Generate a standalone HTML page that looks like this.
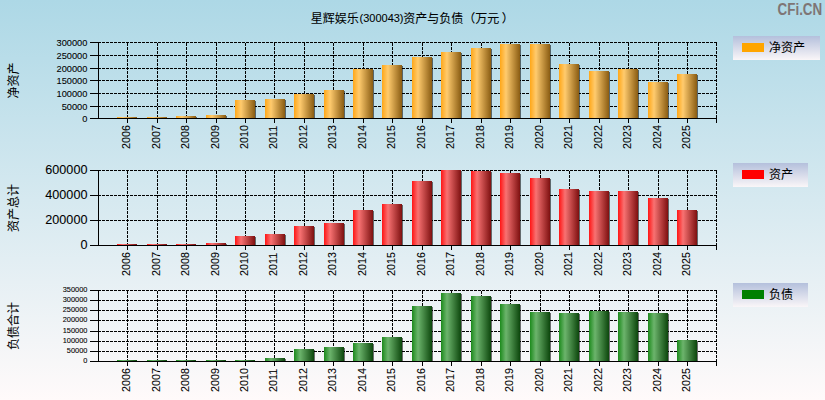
<!DOCTYPE html>
<html><head><meta charset="utf-8"><title>chart</title>
<style>
html,body{margin:0;padding:0;background:#fff;}
body{width:825px;height:400px;overflow:hidden;}
svg{display:block;}
text{font-family:"Liberation Sans","Noto Sans CJK SC",sans-serif;fill:#000;stroke:#000;stroke-width:0.08px;}
.ln{stroke:#000;stroke-width:1;shape-rendering:crispEdges;fill:none;}
.gd{stroke:#000;stroke-width:1;stroke-dasharray:3 1;shape-rendering:crispEdges;fill:none;}
</style></head><body>
<svg width="825" height="400" viewBox="0 0 825 400">
<defs>
<linearGradient id="bg" x1="0" y1="0" x2="0" y2="1"><stop offset="0" stop-color="#ADD8E6"/><stop offset="1" stop-color="#FFFAFA"/></linearGradient>
<linearGradient id="lg" x1="0" y1="0" x2="0" y2="1"><stop offset="0" stop-color="#B4C0DC"/><stop offset="1" stop-color="#FAF6F8"/></linearGradient>
<linearGradient id="baro" x1="0" y1="0" x2="1" y2="0"><stop offset="0" stop-color="#FFA718"/><stop offset="0.3" stop-color="#FFCB6E"/><stop offset="1" stop-color="#8A5C12"/></linearGradient>
<linearGradient id="barr" x1="0" y1="0" x2="1" y2="0"><stop offset="0" stop-color="#FF1414"/><stop offset="0.3" stop-color="#F87272"/><stop offset="1" stop-color="#7E1010"/></linearGradient>
<linearGradient id="barg" x1="0" y1="0" x2="1" y2="0"><stop offset="0" stop-color="#1C8A1C"/><stop offset="0.3" stop-color="#6CB46C"/><stop offset="1" stop-color="#0C460C"/></linearGradient>
</defs>
<rect width="825" height="400" fill="url(#bg)"/>
<text x="310.7" y="22.5" font-size="12">星辉娱乐</text>
<text x="359.5" y="22.2" font-size="11">(300043)</text>
<text x="403.2" y="22.5" font-size="12">资产与负债（万元</text>
<text x="501.7" y="22.5" font-size="12">）</text>
<text x="777.6" y="14.8" font-size="16" font-weight="bold" style="fill:#7e7575;stroke:none" textLength="44.6" lengthAdjust="spacingAndGlyphs">CFi.CN</text>
<g id="co">
<path class="ln" d="M90 118.5H98.5"/>
<text x="87.4" y="122.01" font-size="9.25" text-anchor="end">0</text>
<path class="gd" d="M98.0 106.5H717.0"/>
<path class="ln" d="M90 106.5H98.5"/>
<text x="87.4" y="110.01" font-size="9.25" text-anchor="end">50000</text>
<path class="gd" d="M98.0 93.5H717.0"/>
<path class="ln" d="M90 93.5H98.5"/>
<text x="87.4" y="97.01" font-size="9.25" text-anchor="end">100000</text>
<path class="gd" d="M98.0 80.5H717.0"/>
<path class="ln" d="M90 80.5H98.5"/>
<text x="87.4" y="84.01" font-size="9.25" text-anchor="end">150000</text>
<path class="gd" d="M98.0 68.5H717.0"/>
<path class="ln" d="M90 68.5H98.5"/>
<text x="87.4" y="72.01" font-size="9.25" text-anchor="end">200000</text>
<path class="gd" d="M98.0 55.5H717.0"/>
<path class="ln" d="M90 55.5H98.5"/>
<text x="87.4" y="59.01" font-size="9.25" text-anchor="end">250000</text>
<path class="gd" d="M98.0 42.5H717.0"/>
<path class="ln" d="M90 42.5H98.5"/>
<text x="87.4" y="46.01" font-size="9.25" text-anchor="end">300000</text>
<path class="gd" d="M127.5 43.0V118.0"/>
<path class="ln" d="M127.5 119.0V123.0"/>
<path class="gd" d="M157.5 43.0V118.0"/>
<path class="ln" d="M157.5 119.0V123.0"/>
<path class="gd" d="M186.5 43.0V118.0"/>
<path class="ln" d="M186.5 119.0V123.0"/>
<path class="gd" d="M216.5 43.0V118.0"/>
<path class="ln" d="M216.5 119.0V123.0"/>
<path class="gd" d="M245.5 43.0V118.0"/>
<path class="ln" d="M245.5 119.0V123.0"/>
<path class="gd" d="M274.5 43.0V118.0"/>
<path class="ln" d="M274.5 119.0V123.0"/>
<path class="gd" d="M304.5 43.0V118.0"/>
<path class="ln" d="M304.5 119.0V123.0"/>
<path class="gd" d="M333.5 43.0V118.0"/>
<path class="ln" d="M333.5 119.0V123.0"/>
<path class="gd" d="M363.5 43.0V118.0"/>
<path class="ln" d="M363.5 119.0V123.0"/>
<path class="gd" d="M392.5 43.0V118.0"/>
<path class="ln" d="M392.5 119.0V123.0"/>
<path class="gd" d="M422.5 43.0V118.0"/>
<path class="ln" d="M422.5 119.0V123.0"/>
<path class="gd" d="M451.5 43.0V118.0"/>
<path class="ln" d="M451.5 119.0V123.0"/>
<path class="gd" d="M481.5 43.0V118.0"/>
<path class="ln" d="M481.5 119.0V123.0"/>
<path class="gd" d="M510.5 43.0V118.0"/>
<path class="ln" d="M510.5 119.0V123.0"/>
<path class="gd" d="M540.5 43.0V118.0"/>
<path class="ln" d="M540.5 119.0V123.0"/>
<path class="gd" d="M569.5 43.0V118.0"/>
<path class="ln" d="M569.5 119.0V123.0"/>
<path class="gd" d="M599.5 43.0V118.0"/>
<path class="ln" d="M599.5 119.0V123.0"/>
<path class="gd" d="M628.5 43.0V118.0"/>
<path class="ln" d="M628.5 119.0V123.0"/>
<path class="gd" d="M658.5 43.0V118.0"/>
<path class="ln" d="M658.5 119.0V123.0"/>
<path class="gd" d="M687.5 43.0V118.0"/>
<path class="ln" d="M687.5 119.0V123.0"/>
<path class="gd" d="M716.5 43.0V118.0"/>
<path class="ln" d="M716.5 119.0V123.0"/>
<rect x="137.00" y="118.00" width="1.0" height="0.50" fill="#000" fill-opacity="0.55"/>
<rect x="117.00" y="117.00" width="20.00" height="1" fill="url(#baro)"/>
<rect x="167.00" y="118.00" width="1.0" height="0.50" fill="#000" fill-opacity="0.55"/>
<rect x="147.00" y="117.00" width="20.00" height="1" fill="url(#baro)"/>
<rect x="196.00" y="117.00" width="1.0" height="1.00" fill="#000" fill-opacity="0.55"/>
<rect x="176.00" y="116.00" width="20.00" height="2" fill="url(#baro)"/>
<rect x="226.00" y="116.00" width="1.0" height="2.00" fill="#000" fill-opacity="0.55"/>
<rect x="206.00" y="115.00" width="20.00" height="3" fill="url(#baro)"/>
<rect x="255.00" y="101.00" width="1.0" height="17.00" fill="#000" fill-opacity="0.55"/>
<rect x="235.00" y="100.00" width="20.00" height="18" fill="url(#baro)"/>
<rect x="285.00" y="100.00" width="1.0" height="18.00" fill="#000" fill-opacity="0.55"/>
<rect x="265.00" y="99.00" width="20.00" height="19" fill="url(#baro)"/>
<rect x="314.00" y="95.00" width="1.0" height="23.00" fill="#000" fill-opacity="0.55"/>
<rect x="294.00" y="94.00" width="20.00" height="24" fill="url(#baro)"/>
<rect x="344.00" y="91.00" width="1.0" height="27.00" fill="#000" fill-opacity="0.55"/>
<rect x="324.00" y="90.00" width="20.00" height="28" fill="url(#baro)"/>
<rect x="373.00" y="70.00" width="1.0" height="48.00" fill="#000" fill-opacity="0.55"/>
<rect x="353.00" y="69.00" width="20.00" height="49" fill="url(#baro)"/>
<rect x="402.00" y="66.00" width="1.0" height="52.00" fill="#000" fill-opacity="0.55"/>
<rect x="382.00" y="65.00" width="20.00" height="53" fill="url(#baro)"/>
<rect x="432.00" y="58.00" width="1.0" height="60.00" fill="#000" fill-opacity="0.55"/>
<rect x="412.00" y="57.00" width="20.00" height="61" fill="url(#baro)"/>
<rect x="461.00" y="53.00" width="1.0" height="65.00" fill="#000" fill-opacity="0.55"/>
<rect x="441.00" y="52.00" width="20.00" height="66" fill="url(#baro)"/>
<rect x="491.00" y="49.00" width="1.0" height="69.00" fill="#000" fill-opacity="0.55"/>
<rect x="471.00" y="48.00" width="20.00" height="70" fill="url(#baro)"/>
<rect x="520.00" y="45.00" width="1.0" height="73.00" fill="#000" fill-opacity="0.55"/>
<rect x="500.00" y="44.00" width="20.00" height="74" fill="url(#baro)"/>
<rect x="550.00" y="45.00" width="1.0" height="73.00" fill="#000" fill-opacity="0.55"/>
<rect x="530.00" y="44.00" width="20.00" height="74" fill="url(#baro)"/>
<rect x="579.00" y="65.00" width="1.0" height="53.00" fill="#000" fill-opacity="0.55"/>
<rect x="559.00" y="64.00" width="20.00" height="54" fill="url(#baro)"/>
<rect x="609.00" y="72.00" width="1.0" height="46.00" fill="#000" fill-opacity="0.55"/>
<rect x="589.00" y="71.00" width="20.00" height="47" fill="url(#baro)"/>
<rect x="638.00" y="70.00" width="1.0" height="48.00" fill="#000" fill-opacity="0.55"/>
<rect x="618.00" y="69.00" width="20.00" height="49" fill="url(#baro)"/>
<rect x="668.00" y="83.00" width="1.0" height="35.00" fill="#000" fill-opacity="0.55"/>
<rect x="648.00" y="82.00" width="20.00" height="36" fill="url(#baro)"/>
<rect x="697.00" y="75.00" width="1.0" height="43.00" fill="#000" fill-opacity="0.55"/>
<rect x="677.00" y="74.00" width="20.00" height="44" fill="url(#baro)"/>
<path class="ln" d="M98.5 42.0V119.0"/>
<path class="ln" d="M98.0 118.5H717.0"/>
<text transform="translate(129.60 148.90) rotate(-90)" font-size="10.7">2006</text>
<text transform="translate(159.60 148.90) rotate(-90)" font-size="10.7">2007</text>
<text transform="translate(188.60 148.90) rotate(-90)" font-size="10.7">2008</text>
<text transform="translate(218.60 148.90) rotate(-90)" font-size="10.7">2009</text>
<text transform="translate(247.60 148.90) rotate(-90)" font-size="10.7">2010</text>
<text transform="translate(276.60 148.90) rotate(-90)" font-size="10.7">2011</text>
<text transform="translate(306.60 148.90) rotate(-90)" font-size="10.7">2012</text>
<text transform="translate(335.60 148.90) rotate(-90)" font-size="10.7">2013</text>
<text transform="translate(365.60 148.90) rotate(-90)" font-size="10.7">2014</text>
<text transform="translate(394.60 148.90) rotate(-90)" font-size="10.7">2015</text>
<text transform="translate(424.60 148.90) rotate(-90)" font-size="10.7">2016</text>
<text transform="translate(453.60 148.90) rotate(-90)" font-size="10.7">2017</text>
<text transform="translate(483.60 148.90) rotate(-90)" font-size="10.7">2018</text>
<text transform="translate(512.60 148.90) rotate(-90)" font-size="10.7">2019</text>
<text transform="translate(542.60 148.90) rotate(-90)" font-size="10.7">2020</text>
<text transform="translate(571.60 148.90) rotate(-90)" font-size="10.7">2021</text>
<text transform="translate(601.60 148.90) rotate(-90)" font-size="10.7">2022</text>
<text transform="translate(630.60 148.90) rotate(-90)" font-size="10.7">2023</text>
<text transform="translate(660.60 148.90) rotate(-90)" font-size="10.7">2024</text>
<text transform="translate(689.60 148.90) rotate(-90)" font-size="10.7">2025</text>
<text transform="translate(17.60 98.50) rotate(-90)" font-size="12">净资产</text>
<rect x="733" y="36" width="87" height="24" fill="url(#lg)"/>
<rect x="742" y="43" width="22" height="9" fill="#FFA500"/>
<text x="769" y="52" font-size="12">净资产</text>
</g>
<g id="cr">
<path class="ln" d="M90 245.5H98.5"/>
<text x="87.4" y="248.91" font-size="12.6" text-anchor="end">0</text>
<path class="gd" d="M98.0 220.5H717.0"/>
<path class="ln" d="M90 220.5H98.5"/>
<text x="87.4" y="223.91" font-size="12.6" text-anchor="end">200000</text>
<path class="gd" d="M98.0 195.5H717.0"/>
<path class="ln" d="M90 195.5H98.5"/>
<text x="87.4" y="198.91" font-size="12.6" text-anchor="end">400000</text>
<path class="gd" d="M98.0 170.5H717.0"/>
<path class="ln" d="M90 170.5H98.5"/>
<text x="87.4" y="173.91" font-size="12.6" text-anchor="end">600000</text>
<path class="gd" d="M127.5 171.0V245.0"/>
<path class="ln" d="M127.5 246.0V250.0"/>
<path class="gd" d="M157.5 171.0V245.0"/>
<path class="ln" d="M157.5 246.0V250.0"/>
<path class="gd" d="M186.5 171.0V245.0"/>
<path class="ln" d="M186.5 246.0V250.0"/>
<path class="gd" d="M216.5 171.0V245.0"/>
<path class="ln" d="M216.5 246.0V250.0"/>
<path class="gd" d="M245.5 171.0V245.0"/>
<path class="ln" d="M245.5 246.0V250.0"/>
<path class="gd" d="M274.5 171.0V245.0"/>
<path class="ln" d="M274.5 246.0V250.0"/>
<path class="gd" d="M304.5 171.0V245.0"/>
<path class="ln" d="M304.5 246.0V250.0"/>
<path class="gd" d="M333.5 171.0V245.0"/>
<path class="ln" d="M333.5 246.0V250.0"/>
<path class="gd" d="M363.5 171.0V245.0"/>
<path class="ln" d="M363.5 246.0V250.0"/>
<path class="gd" d="M392.5 171.0V245.0"/>
<path class="ln" d="M392.5 246.0V250.0"/>
<path class="gd" d="M422.5 171.0V245.0"/>
<path class="ln" d="M422.5 246.0V250.0"/>
<path class="gd" d="M451.5 171.0V245.0"/>
<path class="ln" d="M451.5 246.0V250.0"/>
<path class="gd" d="M481.5 171.0V245.0"/>
<path class="ln" d="M481.5 246.0V250.0"/>
<path class="gd" d="M510.5 171.0V245.0"/>
<path class="ln" d="M510.5 246.0V250.0"/>
<path class="gd" d="M540.5 171.0V245.0"/>
<path class="ln" d="M540.5 246.0V250.0"/>
<path class="gd" d="M569.5 171.0V245.0"/>
<path class="ln" d="M569.5 246.0V250.0"/>
<path class="gd" d="M599.5 171.0V245.0"/>
<path class="ln" d="M599.5 246.0V250.0"/>
<path class="gd" d="M628.5 171.0V245.0"/>
<path class="ln" d="M628.5 246.0V250.0"/>
<path class="gd" d="M658.5 171.0V245.0"/>
<path class="ln" d="M658.5 246.0V250.0"/>
<path class="gd" d="M687.5 171.0V245.0"/>
<path class="ln" d="M687.5 246.0V250.0"/>
<path class="gd" d="M716.5 171.0V245.0"/>
<path class="ln" d="M716.5 246.0V250.0"/>
<rect x="137.00" y="245.00" width="1.0" height="0.50" fill="#000" fill-opacity="0.55"/>
<rect x="117.00" y="244.00" width="20.00" height="1" fill="url(#barr)"/>
<rect x="167.00" y="245.00" width="1.0" height="0.50" fill="#000" fill-opacity="0.55"/>
<rect x="147.00" y="244.00" width="20.00" height="1" fill="url(#barr)"/>
<rect x="196.00" y="245.00" width="1.0" height="0.50" fill="#000" fill-opacity="0.55"/>
<rect x="176.00" y="244.00" width="20.00" height="1" fill="url(#barr)"/>
<rect x="226.00" y="244.00" width="1.0" height="1.00" fill="#000" fill-opacity="0.55"/>
<rect x="206.00" y="243.00" width="20.00" height="2" fill="url(#barr)"/>
<rect x="255.00" y="237.00" width="1.0" height="8.00" fill="#000" fill-opacity="0.55"/>
<rect x="235.00" y="236.00" width="20.00" height="9" fill="url(#barr)"/>
<rect x="285.00" y="235.00" width="1.0" height="10.00" fill="#000" fill-opacity="0.55"/>
<rect x="265.00" y="234.00" width="20.00" height="11" fill="url(#barr)"/>
<rect x="314.00" y="227.00" width="1.0" height="18.00" fill="#000" fill-opacity="0.55"/>
<rect x="294.00" y="226.00" width="20.00" height="19" fill="url(#barr)"/>
<rect x="344.00" y="224.00" width="1.0" height="21.00" fill="#000" fill-opacity="0.55"/>
<rect x="324.00" y="223.00" width="20.00" height="22" fill="url(#barr)"/>
<rect x="373.00" y="211.00" width="1.0" height="34.00" fill="#000" fill-opacity="0.55"/>
<rect x="353.00" y="210.00" width="20.00" height="35" fill="url(#barr)"/>
<rect x="402.00" y="205.00" width="1.0" height="40.00" fill="#000" fill-opacity="0.55"/>
<rect x="382.00" y="204.00" width="20.00" height="41" fill="url(#barr)"/>
<rect x="432.00" y="182.00" width="1.0" height="63.00" fill="#000" fill-opacity="0.55"/>
<rect x="412.00" y="181.00" width="20.00" height="64" fill="url(#barr)"/>
<rect x="461.00" y="171.00" width="1.0" height="74.00" fill="#000" fill-opacity="0.55"/>
<rect x="441.00" y="170.00" width="20.00" height="75" fill="url(#barr)"/>
<rect x="491.00" y="172.00" width="1.0" height="73.00" fill="#000" fill-opacity="0.55"/>
<rect x="471.00" y="171.00" width="20.00" height="74" fill="url(#barr)"/>
<rect x="520.00" y="174.00" width="1.0" height="71.00" fill="#000" fill-opacity="0.55"/>
<rect x="500.00" y="173.00" width="20.00" height="72" fill="url(#barr)"/>
<rect x="550.00" y="179.00" width="1.0" height="66.00" fill="#000" fill-opacity="0.55"/>
<rect x="530.00" y="178.00" width="20.00" height="67" fill="url(#barr)"/>
<rect x="579.00" y="190.00" width="1.0" height="55.00" fill="#000" fill-opacity="0.55"/>
<rect x="559.00" y="189.00" width="20.00" height="56" fill="url(#barr)"/>
<rect x="609.00" y="192.00" width="1.0" height="53.00" fill="#000" fill-opacity="0.55"/>
<rect x="589.00" y="191.00" width="20.00" height="54" fill="url(#barr)"/>
<rect x="638.00" y="192.00" width="1.0" height="53.00" fill="#000" fill-opacity="0.55"/>
<rect x="618.00" y="191.00" width="20.00" height="54" fill="url(#barr)"/>
<rect x="668.00" y="199.00" width="1.0" height="46.00" fill="#000" fill-opacity="0.55"/>
<rect x="648.00" y="198.00" width="20.00" height="47" fill="url(#barr)"/>
<rect x="697.00" y="211.00" width="1.0" height="34.00" fill="#000" fill-opacity="0.55"/>
<rect x="677.00" y="210.00" width="20.00" height="35" fill="url(#barr)"/>
<path class="ln" d="M98.5 170.0V246.0"/>
<path class="ln" d="M98.0 245.5H717.0"/>
<text transform="translate(129.60 275.90) rotate(-90)" font-size="10.7">2006</text>
<text transform="translate(159.60 275.90) rotate(-90)" font-size="10.7">2007</text>
<text transform="translate(188.60 275.90) rotate(-90)" font-size="10.7">2008</text>
<text transform="translate(218.60 275.90) rotate(-90)" font-size="10.7">2009</text>
<text transform="translate(247.60 275.90) rotate(-90)" font-size="10.7">2010</text>
<text transform="translate(276.60 275.90) rotate(-90)" font-size="10.7">2011</text>
<text transform="translate(306.60 275.90) rotate(-90)" font-size="10.7">2012</text>
<text transform="translate(335.60 275.90) rotate(-90)" font-size="10.7">2013</text>
<text transform="translate(365.60 275.90) rotate(-90)" font-size="10.7">2014</text>
<text transform="translate(394.60 275.90) rotate(-90)" font-size="10.7">2015</text>
<text transform="translate(424.60 275.90) rotate(-90)" font-size="10.7">2016</text>
<text transform="translate(453.60 275.90) rotate(-90)" font-size="10.7">2017</text>
<text transform="translate(483.60 275.90) rotate(-90)" font-size="10.7">2018</text>
<text transform="translate(512.60 275.90) rotate(-90)" font-size="10.7">2019</text>
<text transform="translate(542.60 275.90) rotate(-90)" font-size="10.7">2020</text>
<text transform="translate(571.60 275.90) rotate(-90)" font-size="10.7">2021</text>
<text transform="translate(601.60 275.90) rotate(-90)" font-size="10.7">2022</text>
<text transform="translate(630.60 275.90) rotate(-90)" font-size="10.7">2023</text>
<text transform="translate(660.60 275.90) rotate(-90)" font-size="10.7">2024</text>
<text transform="translate(689.60 275.90) rotate(-90)" font-size="10.7">2025</text>
<text transform="translate(17.60 232.00) rotate(-90)" font-size="12">资产总计</text>
<rect x="733" y="163" width="75" height="24" fill="url(#lg)"/>
<rect x="742" y="170" width="22" height="9" fill="#FF0000"/>
<text x="769" y="179" font-size="12">资产</text>
</g>
<g id="cg">
<path class="ln" d="M90 361.5H98.5"/>
<text x="87.4" y="362.65" font-size="7.4" text-anchor="end">0</text>
<path class="gd" d="M98.0 351.5H717.0"/>
<path class="ln" d="M90 351.5H98.5"/>
<text x="87.4" y="352.65" font-size="7.4" text-anchor="end">50000</text>
<path class="gd" d="M98.0 341.5H717.0"/>
<path class="ln" d="M90 341.5H98.5"/>
<text x="87.4" y="342.65" font-size="7.4" text-anchor="end">100000</text>
<path class="gd" d="M98.0 331.5H717.0"/>
<path class="ln" d="M90 331.5H98.5"/>
<text x="87.4" y="332.65" font-size="7.4" text-anchor="end">150000</text>
<path class="gd" d="M98.0 320.5H717.0"/>
<path class="ln" d="M90 320.5H98.5"/>
<text x="87.4" y="321.65" font-size="7.4" text-anchor="end">200000</text>
<path class="gd" d="M98.0 310.5H717.0"/>
<path class="ln" d="M90 310.5H98.5"/>
<text x="87.4" y="311.65" font-size="7.4" text-anchor="end">250000</text>
<path class="gd" d="M98.0 300.5H717.0"/>
<path class="ln" d="M90 300.5H98.5"/>
<text x="87.4" y="301.65" font-size="7.4" text-anchor="end">300000</text>
<path class="gd" d="M98.0 290.5H717.0"/>
<path class="ln" d="M90 290.5H98.5"/>
<text x="87.4" y="291.65" font-size="7.4" text-anchor="end">350000</text>
<path class="gd" d="M127.5 291.0V361.0"/>
<path class="ln" d="M127.5 362.0V366.0"/>
<path class="gd" d="M157.5 291.0V361.0"/>
<path class="ln" d="M157.5 362.0V366.0"/>
<path class="gd" d="M186.5 291.0V361.0"/>
<path class="ln" d="M186.5 362.0V366.0"/>
<path class="gd" d="M216.5 291.0V361.0"/>
<path class="ln" d="M216.5 362.0V366.0"/>
<path class="gd" d="M245.5 291.0V361.0"/>
<path class="ln" d="M245.5 362.0V366.0"/>
<path class="gd" d="M274.5 291.0V361.0"/>
<path class="ln" d="M274.5 362.0V366.0"/>
<path class="gd" d="M304.5 291.0V361.0"/>
<path class="ln" d="M304.5 362.0V366.0"/>
<path class="gd" d="M333.5 291.0V361.0"/>
<path class="ln" d="M333.5 362.0V366.0"/>
<path class="gd" d="M363.5 291.0V361.0"/>
<path class="ln" d="M363.5 362.0V366.0"/>
<path class="gd" d="M392.5 291.0V361.0"/>
<path class="ln" d="M392.5 362.0V366.0"/>
<path class="gd" d="M422.5 291.0V361.0"/>
<path class="ln" d="M422.5 362.0V366.0"/>
<path class="gd" d="M451.5 291.0V361.0"/>
<path class="ln" d="M451.5 362.0V366.0"/>
<path class="gd" d="M481.5 291.0V361.0"/>
<path class="ln" d="M481.5 362.0V366.0"/>
<path class="gd" d="M510.5 291.0V361.0"/>
<path class="ln" d="M510.5 362.0V366.0"/>
<path class="gd" d="M540.5 291.0V361.0"/>
<path class="ln" d="M540.5 362.0V366.0"/>
<path class="gd" d="M569.5 291.0V361.0"/>
<path class="ln" d="M569.5 362.0V366.0"/>
<path class="gd" d="M599.5 291.0V361.0"/>
<path class="ln" d="M599.5 362.0V366.0"/>
<path class="gd" d="M628.5 291.0V361.0"/>
<path class="ln" d="M628.5 362.0V366.0"/>
<path class="gd" d="M658.5 291.0V361.0"/>
<path class="ln" d="M658.5 362.0V366.0"/>
<path class="gd" d="M687.5 291.0V361.0"/>
<path class="ln" d="M687.5 362.0V366.0"/>
<path class="gd" d="M716.5 291.0V361.0"/>
<path class="ln" d="M716.5 362.0V366.0"/>
<rect x="137.00" y="361.00" width="1.0" height="0.50" fill="#000" fill-opacity="0.55"/>
<rect x="117.00" y="360.00" width="20.00" height="1" fill="url(#barg)"/>
<rect x="167.00" y="361.00" width="1.0" height="0.50" fill="#000" fill-opacity="0.55"/>
<rect x="147.00" y="360.00" width="20.00" height="1" fill="url(#barg)"/>
<rect x="196.00" y="361.00" width="1.0" height="0.50" fill="#000" fill-opacity="0.55"/>
<rect x="176.00" y="360.00" width="20.00" height="1" fill="url(#barg)"/>
<rect x="226.00" y="361.00" width="1.0" height="0.50" fill="#000" fill-opacity="0.55"/>
<rect x="206.00" y="360.00" width="20.00" height="1" fill="url(#barg)"/>
<rect x="255.00" y="361.00" width="1.0" height="0.50" fill="#000" fill-opacity="0.55"/>
<rect x="235.00" y="360.00" width="20.00" height="1" fill="url(#barg)"/>
<rect x="285.00" y="359.00" width="1.0" height="2.00" fill="#000" fill-opacity="0.55"/>
<rect x="265.00" y="358.00" width="20.00" height="3" fill="url(#barg)"/>
<rect x="314.00" y="350.00" width="1.0" height="11.00" fill="#000" fill-opacity="0.55"/>
<rect x="294.00" y="349.00" width="20.00" height="12" fill="url(#barg)"/>
<rect x="344.00" y="348.00" width="1.0" height="13.00" fill="#000" fill-opacity="0.55"/>
<rect x="324.00" y="347.00" width="20.00" height="14" fill="url(#barg)"/>
<rect x="373.00" y="344.00" width="1.0" height="17.00" fill="#000" fill-opacity="0.55"/>
<rect x="353.00" y="343.00" width="20.00" height="18" fill="url(#barg)"/>
<rect x="402.00" y="338.00" width="1.0" height="23.00" fill="#000" fill-opacity="0.55"/>
<rect x="382.00" y="337.00" width="20.00" height="24" fill="url(#barg)"/>
<rect x="432.00" y="307.00" width="1.0" height="54.00" fill="#000" fill-opacity="0.55"/>
<rect x="412.00" y="306.00" width="20.00" height="55" fill="url(#barg)"/>
<rect x="461.00" y="294.00" width="1.0" height="67.00" fill="#000" fill-opacity="0.55"/>
<rect x="441.00" y="293.00" width="20.00" height="68" fill="url(#barg)"/>
<rect x="491.00" y="297.00" width="1.0" height="64.00" fill="#000" fill-opacity="0.55"/>
<rect x="471.00" y="296.00" width="20.00" height="65" fill="url(#barg)"/>
<rect x="520.00" y="305.00" width="1.0" height="56.00" fill="#000" fill-opacity="0.55"/>
<rect x="500.00" y="304.00" width="20.00" height="57" fill="url(#barg)"/>
<rect x="550.00" y="313.00" width="1.0" height="48.00" fill="#000" fill-opacity="0.55"/>
<rect x="530.00" y="312.00" width="20.00" height="49" fill="url(#barg)"/>
<rect x="579.00" y="314.00" width="1.0" height="47.00" fill="#000" fill-opacity="0.55"/>
<rect x="559.00" y="313.00" width="20.00" height="48" fill="url(#barg)"/>
<rect x="609.00" y="312.00" width="1.0" height="49.00" fill="#000" fill-opacity="0.55"/>
<rect x="589.00" y="311.00" width="20.00" height="50" fill="url(#barg)"/>
<rect x="638.00" y="313.00" width="1.0" height="48.00" fill="#000" fill-opacity="0.55"/>
<rect x="618.00" y="312.00" width="20.00" height="49" fill="url(#barg)"/>
<rect x="668.00" y="314.00" width="1.0" height="47.00" fill="#000" fill-opacity="0.55"/>
<rect x="648.00" y="313.00" width="20.00" height="48" fill="url(#barg)"/>
<rect x="697.00" y="341.00" width="1.0" height="20.00" fill="#000" fill-opacity="0.55"/>
<rect x="677.00" y="340.00" width="20.00" height="21" fill="url(#barg)"/>
<path class="ln" d="M98.5 290.0V362.0"/>
<path class="ln" d="M98.0 361.5H717.0"/>
<text transform="translate(129.60 391.90) rotate(-90)" font-size="10.7">2006</text>
<text transform="translate(159.60 391.90) rotate(-90)" font-size="10.7">2007</text>
<text transform="translate(188.60 391.90) rotate(-90)" font-size="10.7">2008</text>
<text transform="translate(218.60 391.90) rotate(-90)" font-size="10.7">2009</text>
<text transform="translate(247.60 391.90) rotate(-90)" font-size="10.7">2010</text>
<text transform="translate(276.60 391.90) rotate(-90)" font-size="10.7">2011</text>
<text transform="translate(306.60 391.90) rotate(-90)" font-size="10.7">2012</text>
<text transform="translate(335.60 391.90) rotate(-90)" font-size="10.7">2013</text>
<text transform="translate(365.60 391.90) rotate(-90)" font-size="10.7">2014</text>
<text transform="translate(394.60 391.90) rotate(-90)" font-size="10.7">2015</text>
<text transform="translate(424.60 391.90) rotate(-90)" font-size="10.7">2016</text>
<text transform="translate(453.60 391.90) rotate(-90)" font-size="10.7">2017</text>
<text transform="translate(483.60 391.90) rotate(-90)" font-size="10.7">2018</text>
<text transform="translate(512.60 391.90) rotate(-90)" font-size="10.7">2019</text>
<text transform="translate(542.60 391.90) rotate(-90)" font-size="10.7">2020</text>
<text transform="translate(571.60 391.90) rotate(-90)" font-size="10.7">2021</text>
<text transform="translate(601.60 391.90) rotate(-90)" font-size="10.7">2022</text>
<text transform="translate(630.60 391.90) rotate(-90)" font-size="10.7">2023</text>
<text transform="translate(660.60 391.90) rotate(-90)" font-size="10.7">2024</text>
<text transform="translate(689.60 391.90) rotate(-90)" font-size="10.7">2025</text>
<text transform="translate(17.60 350.00) rotate(-90)" font-size="12">负债合计</text>
<rect x="733" y="283" width="75" height="24" fill="url(#lg)"/>
<rect x="742" y="290" width="22" height="9" fill="#008000"/>
<text x="769" y="299" font-size="12">负债</text>
</g>
</svg></body></html>
